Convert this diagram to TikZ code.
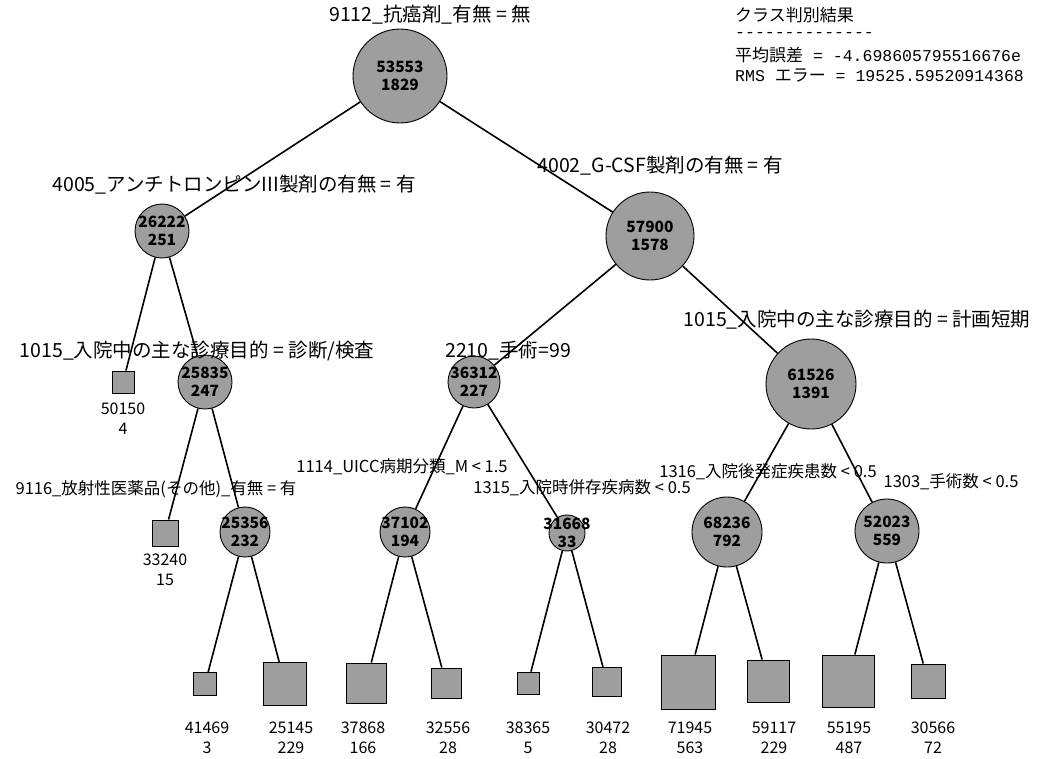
\documentclass[tikz,border=0pt]{standalone}
\usepackage{fontspec}
\setmainfont{Noto Sans CJK JP}
\newfontfamily\monolat{Liberation Mono}

\begin{document}
\begin{tikzpicture}[x=1pt,y=-1pt,
                split/.style={circle,draw,line width=0.9pt,fill=black!38,inner sep=0pt,minimum size=#1},
                num/.style={align=center,inner sep=0pt,font=\bfseries\fontsize{15.5}{18}\selectfont},
                leaf/.style={rectangle,draw,line width=0.9pt,fill=black!38,inner sep=0pt,minimum size=#1},
                cnt/.style={align=center,inner sep=0pt,font=\fontsize{16}{20}\selectfont},
                bigcond/.style={inner sep=0pt,font=\fontsize{19.5}{22}\selectfont},
                smallcond/.style={inner sep=0pt,font=\fontsize{16.5}{19}\selectfont},
                info/.style={anchor=west,inner sep=0pt,font=\fontsize{17}{19}\selectfont},
                link/.style={line width=1.6pt}]
                \useasboundingbox (0,0) rectangle (1040,758);

                \node[split=94pt] (s53553) at (400,76) {};
                \node[split=54pt] (s26222) at (162,231) {};
                \node[split=88pt] (s57900) at (650,236) {};
                \node[split=54pt] (s25835) at (205,382) {};
                \node[split=52pt] (s36312) at (474,382) {};
                \node[split=90pt] (s61526) at (811,384) {};
                \node[split=50pt] (s25356) at (245,532) {};
                \node[split=50pt] (s37102) at (405,532) {};
                \node[split=36pt] (s31668) at (567,533) {};
                \node[split=70pt] (s68236) at (727,532) {};
                \node[split=64pt] (s52023) at (887,531) {};

                \node[num] (n53553) at (s53553) {53553\\1829};
                \node[num] (n26222) at (s26222) {26222\\251};
                \node[num] (n57900) at (s57900) {57900\\1578};
                \node[num] (n25835) at (s25835) {25835\\247};
                \node[num] (n36312) at (s36312) {36312\\227};
                \node[num] (n61526) at (s61526) {61526\\1391};
                \node[num] (n25356) at (s25356) {25356\\232};
                \node[num] (n37102) at (s37102) {37102\\194};
                \node[num] (n31668) at (s31668) {31668\\33};
                \node[num] (n68236) at (s68236) {68236\\792};
                \node[num] (n52023) at (s52023) {52023\\559};

                \node[leaf=22pt] (q50150) at (123,382) {};
                \node[leaf=26pt] (q33240) at (165,533) {};
                \node[leaf=23pt] (q41469) at (205,684) {};
                \node[leaf=43pt] (q25145) at (285,684) {};
                \node[leaf=40pt] (q37868) at (366,683) {};
                \node[leaf=30pt] (q32556) at (446,683) {};
                \node[leaf=22pt] (q38365) at (528,683) {};
                \node[leaf=29pt] (q30472) at (607,682) {};
                \node[leaf=54pt] (q71945) at (688,682) {};
                \node[leaf=42pt] (q59117) at (768,681) {};
                \node[leaf=52pt] (q55195) at (848,681) {};
                \node[leaf=34pt] (q30566) at (928,681) {};

                \node[cnt] (t50150) at (123,419) {50150\\4};
                \node[cnt] (t33240) at (165,570) {33240\\15};
                \node[cnt] (t41469) at (207,738) {41469\\3};
                \node[cnt] (t25145) at (291,738) {25145\\229};
                \node[cnt] (t37868) at (363,738) {37868\\166};
                \node[cnt] (t32556) at (448,738) {32556\\28};
                \node[cnt] (t38365) at (528,738) {38365\\5};
                \node[cnt] (t30472) at (608,738) {30472\\28};
                \node[cnt] (t71945) at (690,738) {71945\\563};
                \node[cnt] (t59117) at (774,738) {59117\\229};
                \node[cnt] (t55195) at (849,738) {55195\\487};
                \node[cnt] (t30566) at (933,738) {30566\\72};

                \node[bigcond] (c9112) at (430,15) {9112\_抗癌剤\_有無 = 無};
                \node[bigcond] (c4005) at (234,185) {4005\_アンチトロンピンIII製剤の有無 = 有};
                \node[bigcond] (c4002) at (660,166) {4002\_G-CSF製剤の有無 = 有};
                \node[bigcond] (c1015a) at (197,351) {1015\_入院中の主な診療目的 = 診断/検査};
                \node[bigcond] (c2210) at (508,351) {2210\_手術=99};
                \node[bigcond] (c1015b) at (857,320) {1015\_入院中の主な診療目的 = 計画短期};
                \node[smallcond] (c1114) at (402,467) {1114\_UICC病期分類\_M < 1.5};
                \node[smallcond] (c9116) at (156,489) {9116\_放射性医薬品(その他)\_有無 = 有};
                \node[smallcond] (c1315) at (582,488) {1315\_入院時併存疾病数 < 0.5};
                \node[smallcond] (c1316) at (768,472) {1316\_入院後発症疾患数 < 0.5};
                \node[smallcond] (c1303) at (951,482) {1303\_手術数 < 0.5};

                \node[info] (hdr) at (735,15) {クラス判別結果};
                \node[info] (dashrow) at (735,35) {\monolat\fontsize{16.5}{19}\selectfont\foreach \k in {1,...,14}{\mbox{-}}};
                \node[info] (meanerr) at (735,55) {平均誤差{\monolat\fontsize{16.5}{19}\selectfont{} = -4.698605795516676e}};
                \node[info] (rmserr) at (735,76) {{\monolat\fontsize{16.5}{19}\selectfont RMS }エラー{\monolat\fontsize{16.5}{19}\selectfont{} = 19525.59520914368}};

                \draw[link] (s53553) -- (s26222);
                \draw[link] (s53553) -- (s57900);
                \draw[link] (s26222) -- (q50150);
                \draw[link] (s26222) -- (s25835);
                \draw[link] (s57900) -- (s36312);
                \draw[link] (s57900) -- (s61526);
                \draw[link] (s25835) -- (q33240);
                \draw[link] (s25835) -- (s25356);
                \draw[link] (s25356) -- (q41469);
                \draw[link] (s25356) -- (q25145);
                \draw[link] (s36312) -- (s37102);
                \draw[link] (s36312) -- (s31668);
                \draw[link] (s37102) -- (q37868);
                \draw[link] (s37102) -- (q32556);
                \draw[link] (s31668) -- (q38365);
                \draw[link] (s31668) -- (q30472);
                \draw[link] (s61526) -- (s68236);
                \draw[link] (s61526) -- (s52023);
                \draw[link] (s68236) -- (q71945);
                \draw[link] (s68236) -- (q59117);
                \draw[link] (s52023) -- (q55195);
                \draw[link] (s52023) -- (q30566);
\end{tikzpicture}
\end{document}
